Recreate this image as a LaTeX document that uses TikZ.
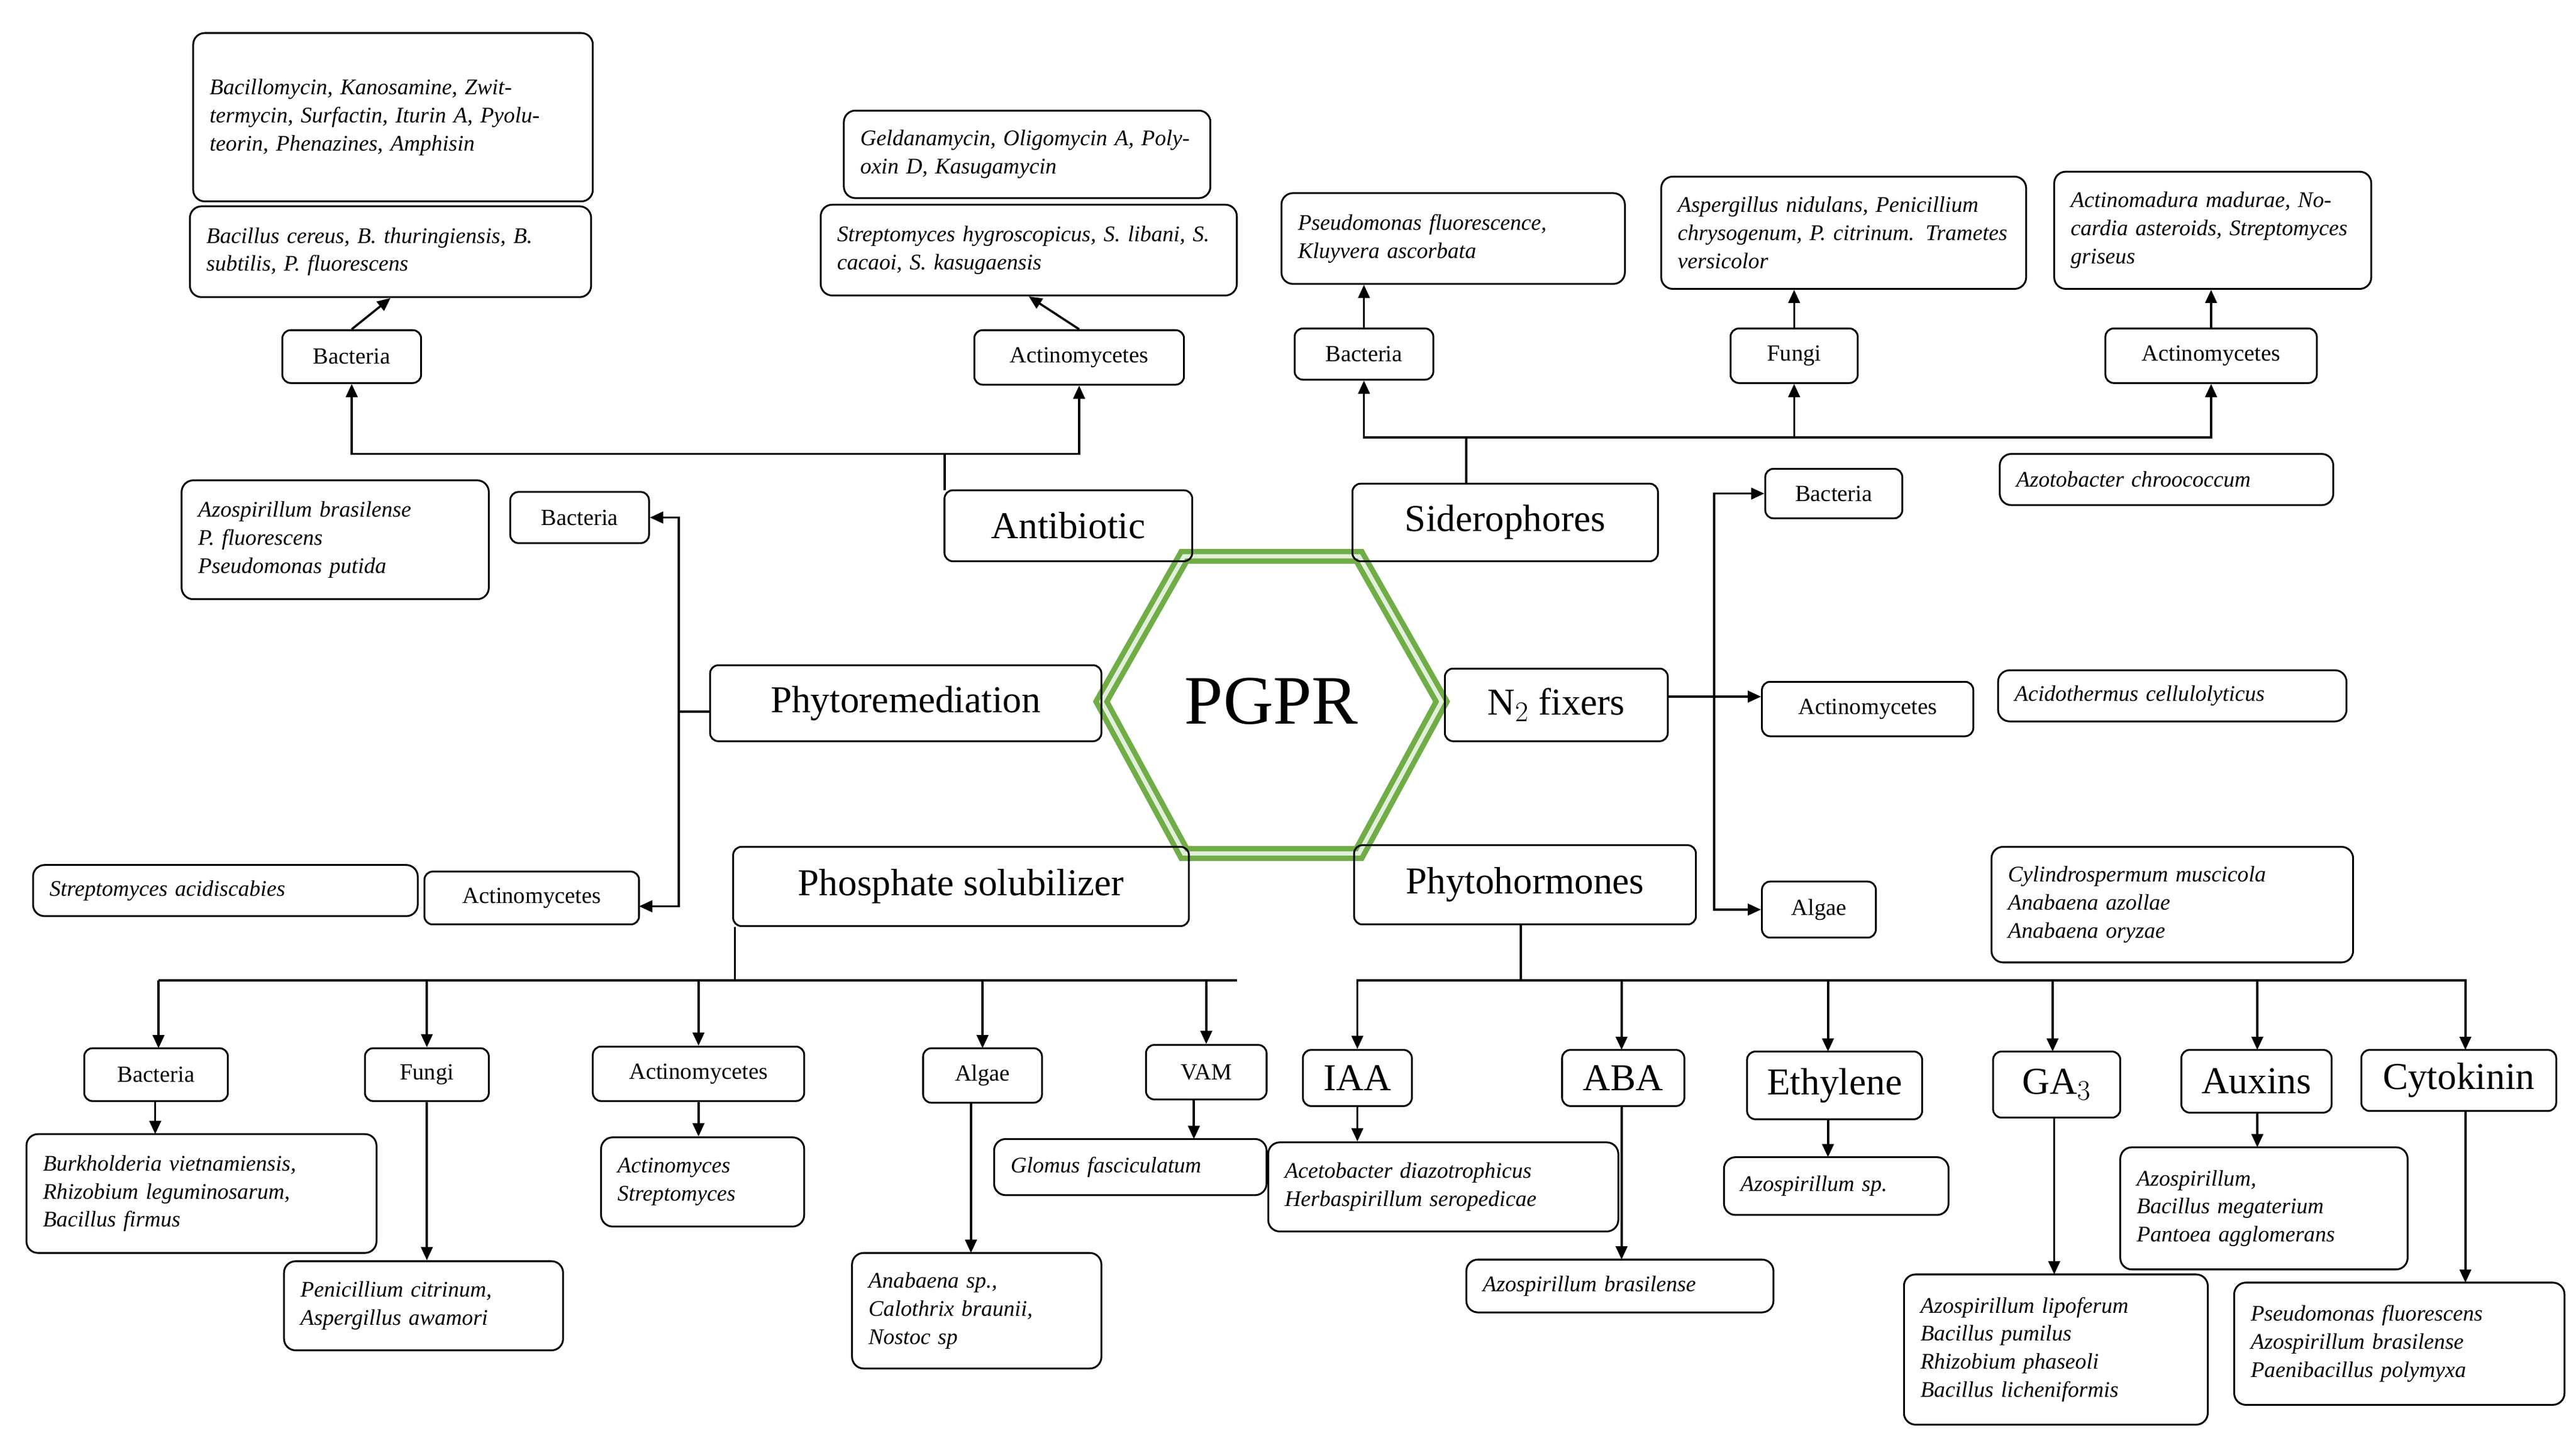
\documentclass[tikz,border=0pt]{standalone}
\usepackage{fontspec}
\setmainfont{Liberation Serif}
\usetikzlibrary{arrows.meta}
\definecolor{hexg}{RGB}{112,173,71}
\tikzset{
 x=1pt,y=-1pt,
 box/.style={draw,rounded corners=5pt,line width=1.1pt,inner sep=2pt,align=center,font=\fontsize{14}{16}\selectfont},
 big/.style={box,font=\fontsize{23}{26}\selectfont},
 txt/.style={draw,rounded corners=7pt,line width=1.1pt,inner xsep=10pt,inner ysep=2pt,align=left,font=\fontsize{13.5}{17}\selectfont\itshape},
 ln/.style={line width=1.3pt},
 arr/.style={ln,-{Triangle[length=8pt,width=7pt]}}
}
\newcommand\bx[7]{\node[#2, minimum width={#5-#3}, minimum height={#6-#4}] (#1) at ({(#3+#5)/2},{(#4+#6)/2}) {#7};}
\newcommand\tx[7]{\node[#2, minimum width={#5-#3}, minimum height={#6-#4}, text width={#5-#3-20}] (#1) at ({(#3+#5)/2},{(#4+#6)/2}) {#7};}
\begin{document}
\begin{tikzpicture}
\fill[white] (0,0) rectangle (1560,874);
\useasboundingbox (0,0) rectangle (1560,874);
% hexagon
\draw[hexg,line width=9pt,line join=miter] (667,425)--(717,337)--(823,337)--(873,425)--(823,517)--(717,517)--cycle;
\draw[white!80!hexg,line width=2.5pt,line join=miter] (667,425)--(717,337)--(823,337)--(873,425)--(823,517)--(717,517)--cycle;
\node[font=\fontsize{42}{46}\selectfont] (pgpr) at (770,425) {PGPR};
% Antibiotic
\tx{t1}{txt}{117}{20}{359}{122}{Bacillomycin, Kanosamine, Zwittermycin, Surfactin, Iturin A, Pyoluteorin, Phenazines, Amphisin}
\tx{t2}{txt}{115}{125}{358}{180}{Bacillus cereus, B. thuringiensis, B. subtilis, P. fluorescens}
\bx{ab}{box}{171}{200}{255}{232}{Bacteria}
\bx{anti}{big}{572}{297}{722}{340}{Antibiotic}
\bx{aa}{box}{590}{200}{717}{233}{Actinomycetes}
\tx{t3}{txt}{511}{67}{733}{120}{Geldanamycin, Oligomycin A, Polyoxin D, Kasugamycin}
\tx{t4}{txt}{497}{124}{749}{179}{Streptomyces hygroscopicus, S. libani, S. cacaoi, S. kasugaensis}
\coordinate (aj) at (572,275);
\draw[ln] (572,297)--(aj);
\draw[arr] (aj)-|(ab.south);
\draw[arr] (aj)-|(aa.south);
\draw[arr] (ab.north)--(t2.south);
\draw[arr] (aa.north)--(t4.south);
% Siderophores
\bx{sid}{big}{819}{293}{1004}{340}{Siderophores}
\bx{sb}{box}{784}{199}{868}{230}{Bacteria}
\bx{sf}{box}{1048}{199}{1125}{232}{Fungi}
\bx{sa}{box}{1275}{199}{1403}{232}{Actinomycetes}
\tx{s1}{txt}{776}{117}{984}{172}{Pseudomonas fluorescence, Kluyvera ascorbata}
\tx{s2}{txt}{1006}{107}{1227}{175}{Aspergillus nidulans, Penicillium chrysogenum, P. citrinum. Trametes versicolor}
\tx{s3}{txt}{1244}{104}{1436}{175}{Actinomadura madurae, Nocardia asteroids, Streptomyces griseus}
\coordinate (sj) at (888,265);
\draw[ln] (sid.north -| sj)--(sj);
\draw[arr] (sj)-|(sb.south);
\draw[arr] (sj)-|(sf.south);
\draw[arr] (sj)-|(sa.south);
\draw[arr] (sb.north)--(sb.north|-s1.south);
\draw[arr] (sf.north)--(sf.north|-s2.south);
\draw[arr] (sa.north)--(sa.north|-s3.south);
% N2 fixers
\bx{n2}{big}{875}{405}{1010}{449}{N$_2$ fixers}
\bx{nb}{box}{1069}{284}{1152}{314}{Bacteria}
\bx{na}{box}{1067}{413}{1195}{446}{Actinomycetes}
\bx{ng}{box}{1067}{534}{1136}{568}{Algae}
\tx{n1}{txt}{1211}{275}{1413}{306}{Azotobacter chroococcum}
\tx{n4}{txt}{1210}{406}{1421}{437}{Acidothermus cellulolyticus}
\tx{n3}{txt}{1206}{513}{1425}{583}{Cylindrospermum muscicola\\Anabaena azollae\\Anabaena oryzae}
\coordinate (nj) at (1038,422);
\draw[ln] (1010,422)--(nj);
\draw[arr] (nj)|-(nb.west);
\draw[arr] (nj)--(na.west|-nj);
\draw[arr] (nj)|-(ng.west);
% Phytoremediation
\bx{pr}{big}{430}{403}{667}{449}{Phytoremediation}
\bx{rb}{box}{309}{298}{393}{329}{Bacteria}
\bx{ra}{box}{257}{528}{387}{560}{Actinomycetes}
\tx{r1}{txt}{110}{291}{296}{363}{Azospirillum brasilense\\P. fluorescens\\Pseudomonas putida}
\tx{r2}{txt}{20}{524}{253}{555}{Streptomyces acidiscabies}
\coordinate (rj) at (411,431);
\draw[ln] (pr.west|-rj)--(rj);
\draw[arr] (rj)|-(rb.east);
\draw[arr] (rj)|-(387,549);
% Phosphate solubilizer
\bx{ps}{big}{444}{513}{720}{561}{Phosphate solubilizer}
\bx{pb}{box}{51}{635}{138}{667}{Bacteria}
\bx{pf}{box}{221}{635}{296}{667}{Fungi}
\bx{pa}{box}{359}{634}{487}{667}{Actinomycetes}
\bx{pg}{box}{559}{635}{631}{668}{Algae}
\bx{pv}{box}{694}{633}{767}{666}{VAM}
\tx{p1}{txt}{16}{687}{228}{759}{Burkholderia vietnamiensis,\\Rhizobium leguminosarum,\\Bacillus firmus}
\tx{p2}{txt}{172}{764}{341}{818}{Penicillium citrinum,\\Aspergillus awamori}
\tx{p3}{txt}{364}{689}{487}{743}{Actinomyces\\Streptomyces}
\tx{p4}{txt}{516}{759}{667}{829}{Anabaena sp.,\\Calothrix braunii,\\Nostoc sp}
\tx{p5}{txt}{602}{690}{767}{724}{Glomus fasciculatum}
\coordinate (pj) at (445,594);
\draw[ln] (pj|-ps.south)--(pj);
\draw[ln] (96,594)--(749,594);
\draw[arr] (96,594)--(96,635);
\draw[arr] (pj)-|(pf.north);
\draw[arr] (pj)-|(pa.north);
\draw[arr] (pj)-|(595,635);
\draw[arr] (pj)-|(pv.north);
\draw[arr] (94,667)--(94,687);
\draw[arr] (pf.south)--(pf.south|-p2.north);
\draw[arr] (pa.south)--(pa.south|-p3.north);
\draw[arr] (588,668)--(588,759);
\draw[arr] (723,666)--(723,690);
% Phytohormones
\bx{ph}{big}{820}{512}{1027}{560}{Phytohormones}
\bx{hi}{big}{789}{636}{855}{670}{IAA}
\bx{ha}{big}{946}{636}{1020}{670}{ABA}
\bx{he}{big}{1058}{637}{1164}{678}{Ethylene}
\bx{hg}{big}{1207}{637}{1284}{677}{GA$_3$}
\bx{hx}{big}{1321}{636}{1412}{674}{Auxins}
\bx{hc}{big}{1430}{636}{1548}{673}{Cytokinin}
\tx{h1}{txt}{768}{692}{980}{746}{Acetobacter diazotrophicus\\Herbaspirillum seropedicae}
\tx{h2}{txt}{888}{763}{1074}{795}{Azospirillum brasilense}
\tx{h3}{txt}{1044}{701}{1180}{736}{Azospirillum sp.}
\tx{h4}{txt}{1153}{772}{1337}{863}{Azospirillum lipoferum\\Bacillus pumilus\\Rhizobium phaseoli\\Bacillus licheniformis}
\tx{h5}{txt}{1284}{695}{1458}{769}{Azospirillum,\\Bacillus megaterium\\Pantoea agglomerans}
\tx{h6}{txt}{1353}{777}{1553}{851}{Pseudomonas fluorescens\\Azospirillum brasilense\\Paenibacillus polymyxa}
\coordinate (hj) at (921,594);
\draw[ln] (hj|-ph.south)--(hj);
\draw[arr] (hj)-|(hi.north);
\draw[arr] (hj)-|(982,636);
\draw[arr] (hj)-|(1107,637);
\draw[arr] (hj)-|(1243,637);
\draw[arr] (hj)-|(1367,636);
\draw[arr] (hj)-|(1493,636);
\draw[arr] (hi.south)--(hi.south|-h1.north);
\draw[arr] (982,670)--(982,763);
\draw[arr] (1107,678)--(1107,701);
\draw[arr] (1244,677)--(1244,772);
\draw[arr] (1367,674)--(1367,695);
\draw[arr] (1493,673)--(1493,777);
\end{tikzpicture}
\end{document}
